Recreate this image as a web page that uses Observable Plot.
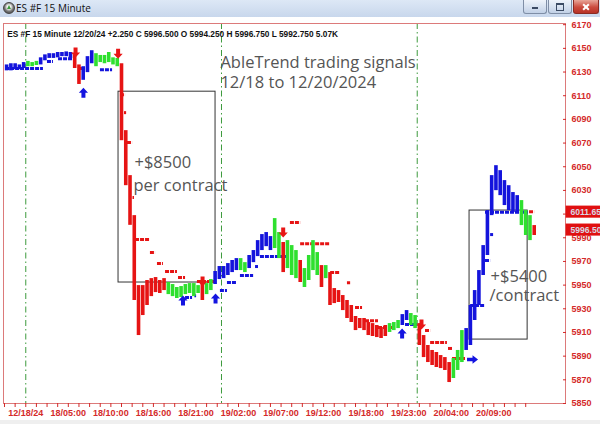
<!DOCTYPE html>
<html><head><meta charset="utf-8">
<script src="https://cdn.jsdelivr.net/npm/d3@7"></script>
<script src="https://cdn.jsdelivr.net/npm/@observablehq/plot@0.6"></script>
<style>
html,body{margin:0;padding:0;background:#fff;width:600px;height:424px;overflow:hidden;}
#titlebar{position:relative;height:17px;background:linear-gradient(#dde8f6,#c8d7ec);font-family:"Open Sans",sans-serif;}
#titlebar .ttl{position:absolute;left:16px;top:0;line-height:16px;font-size:10px;color:#111;}
#titlebar .ico{position:absolute;left:3px;top:2px;width:10px;height:10px;border-radius:50%;background:radial-gradient(circle at 50% 40%,#f4f4f4 0 25%,#7a7a7a 55%,#333 100%);border:1px solid #444;}
#titlebar .ico:after{content:"";position:absolute;left:3px;top:2px;border-left:2px solid transparent;border-right:2px solid transparent;border-bottom:4px solid #3a9a3a;}
.btn{position:absolute;top:0;height:13px;border:1px solid #7f8ea6;border-top:none;border-radius:0 0 3px 3px;background:linear-gradient(#eef3fa,#c2d1e7);}
.btn.min{left:523px;width:22px;}
.btn.max{left:548px;width:22px;}
.btn.cls{left:573px;width:24px;background:linear-gradient(#e8a699,#cc4b3e 55%,#b73226);border-color:#8b2a22;}
.btn.min:after{content:"";position:absolute;left:8px;top:7px;width:6px;height:2px;background:#3b4a63;}
.btn.max:after{content:"";position:absolute;left:7px;top:3px;width:6px;height:5px;border:1px solid #3b4a63;border-top-width:2px;}
.btn.cls:before,.btn.cls:after{content:"";position:absolute;left:11px;top:3px;width:2px;height:8px;background:#fff;transform:rotate(45deg);}
.btn.cls:after{transform:rotate(-45deg);}
#foot{height:4px;background:#efefef;}
</style></head><body>
<div id="titlebar"><div class="ico"></div><div class="ttl">ES #F 15 Minute</div>
<div class="btn min"></div><div class="btn max"></div><div class="btn cls"></div></div>
<div id="chart"></div>
<div id="foot"></div>
<script>
// ---- data: 15-minute bars, sampled every 2 bars (bar index of each sample = 1 + 2*j)
const barStart = 1, barStep = 2;
const barHigh = [
6136,6137,6137,6136,6138,6139,6138,6139,6142,6144.5,
6145.5,6145.5,6146.5,6146.5,6147,6146.5,6144,6136,6134.5,6143,
6148,6145.5,6144,6144,6146.5,6142,6141.5,6137,6080.5,6042.5,
6008.7,5949.6,5949.6,5953.9,5955.5,5956.4,5953.9,5955.5,5952.2,5950.5,
5948,5948.8,5950.5,5951.3,5951.3,5949.6,5950.5,5951.3,5954.7,5961.5,
5965.7,5965.7,5968.2,5970.8,5972.4,5972.4,5969,5975,5979.2,5987.6,
5992.7,5994.4,5991,6006.2,5994.4,5986,5987.6,5983.4,5979.2,5970.8,
5964,5975,5987.6,5977.5,5966.5,5966.5,5960.6,5947.1,5945.4,5941.2,
5937,5932.8,5923.5,5921.8,5921.8,5918.4,5917.5,5915.9,5914.2,5915.9,
5917.5,5918.4,5920.1,5925.1,5928.5,5926,5924.3,5917.5,5907.4,5899,
5894.8,5893.1,5890.5,5888.8,5884.6,5888,5894.8,5911.6,5913.3,5932.8,
5945.4,5962.3,5983.4,6013,6042.5,6050.9,6046.7,6038.3,6034,6028.2,
6025.6,6021.4,6013,6008.7,6000.3];
const barLow = [
6131,6131,6132,6132,6133,6134.5,6134.5,6135.5,6136,6139.5,
6141.5,6141.5,6142,6143,6143,6141.5,6133,6119.5,6123,6129.5,
6137,6134.5,6138,6137,6138,6136,6134.5,6072,6034,6000.5,
5937,5907.4,5924.3,5932.8,5940.3,5943.7,5942.9,5945.4,5942,5940.3,
5938.7,5939.5,5942,5942.9,5940.3,5942.9,5937,5942,5945.4,5950.5,
5954.7,5955.5,5958.1,5960.6,5962.3,5962.3,5960.6,5964,5969,5974.1,
5979.2,5982.5,5979.2,5980.9,5972.4,5960.6,5964,5958.1,5955.5,5952.2,
5948,5953.9,5962.3,5958.1,5948,5955.5,5932.8,5934.4,5935.3,5928.5,
5921.8,5918.4,5911.6,5913.3,5911.6,5907.4,5906.6,5905.7,5904.9,5906.6,
5910,5911.6,5913.3,5915.9,5920.1,5915.9,5913.3,5899,5888.8,5884.6,
5882.1,5880.4,5879.5,5877.9,5867.7,5871.1,5877.9,5884.6,5894.8,5899,
5920.1,5932.8,5958.1,5975,6008.7,6029.8,6025.6,6017.2,6013,6011.3,
6010.4,6000.3,5991.9,5987.6,5991.9];
// trend colour of consecutive samples: [trend, count]
const trendRuns = [["B",5],["G",3],["B",8],["R",2],["B",3],["G",6],["R",11],["G",8],["R",1],["G",2],
["B",6],["G",2],["B",6],["G",2],["R",1],["G",3],["R",1],["G",4],["R",1],["G",1],["R",14],["G",3],
["B",2],["G",2],["R",8],["G",3],["B",13],["G",3],["R",1]];
// stop levels: start bar, end bar, price, side
const stopFrom  = [0.5,20.2,25.4,45.1,85.1,89.5,101.5,104.8,110.9,118.0,120.3,188.5,219.1,226.1,228.5,226.1,
                   34.8,54.5,56.4,57.8,60.4,61.6,68.6,71.9,75.7,81.8,90.7,134.4,139.2,153.3,161.2,165.0,169.7,175.8,197.9,200.3,208.7,210.6,246.8];
const stopTo    = [18.3,23.0,32.0,50.8,88.4,90.3,104.8,109.5,117.1,119.4,133.0,194.2,226.1,228.5,229.9,246.3,
                   38.1,56.9,57.4,60.2,61.1,68.6,71.0,74.7,81.3,85.1,99.2,139.2,153.3,158.0,162.7,168.3,175.8,183.8,200.3,208.2,210.6,216.7,249.2];
const stopLevel = [6133,6138.8,6141.3,6132,5939.5,5941,5945.4,5952.2,5958.1,5965.7,5974.1,5916.7,5932.8,5970.8,5992.7,6011.65,
                   6133,6110.9,6095.7,6070.4,6024,5988.5,5977.5,5968.2,5961.5,5956.4,5953,6002.8,5985,5960.6,5952,5931,5920,5914.2,5911.6,5901.5,5896.5,5888,6012];
const stopSide  = "BBBBBBBBBBBBBBBBRRRRRRRRRRRRRRRRRRRRRRR";
// signal arrows: bar, price, kind
const signalBar   = [33.4,53.4,93.1,131,196,37.1,83.9,99.2,186.9,220];
const signalPrice = [6146.4,6145.5,5953,5994.4,5916.7,6112.6,5937,5938.7,5909.1,5887.2];
const signalKind  = ["sell","sell","sell","sell","sell","buy","buy","buy","buy","hold"];
// trade boxes
const tradeFrom = [53.6,218.6], tradeTo = [99.2,245.9], tradeTop = [6113.4,6013], tradeBottom = [5952.2,5904];
// day separators (bar index)
const dayBreaks = [10,102,194];
// axes
const priceTicks = [6170,6150,6130,6110,6090,6070,6050,6030,6010,5990,5970,5950,5930,5910,5890,5870,5850];
const hiddenPriceLabels = [6010]; // covered by the last-stop marker in the original
const timeLabelBars = [10,30,50,70,90,110,130,150,170,190,210,230];
const timeLabels = ["12/18/24","18/05:00","18/10:00","18/16:00","18/21:00","19/02:00","19/07:00","19/12:00","19/18:00","19/23:00","20/04:00","20/09:00"];
const lastStop = 6011.65, lastClose = 5996.50;
const header = "ES #F 15 Minute 12/20/24 +2.250 C 5996.500 O 5994.250 H 5996.750 L 5992.750 5.07K";
const notes = [
  {bar:101.5, price:6137.9, text:"AbleTrend trading signals"},
  {bar:101.5, price:6121.0, text:"12/18 to 12/20/2024"},
  {bar:61.1,  price:6053.5, text:"+$8500"},
  {bar:60.6,  price:6034.1, text:"per contract"},
  {bar:228.5, price:5957.2, text:"+$5400"},
  {bar:228.0, price:5941.0, text:"/contract"}];

// ---- build tables
const COL = {B:"#1414dc", G:"#2fe02f", R:"#e61414"};
const trend = trendRuns.flatMap(([c,n]) => Array(n).fill(c));
const bars = barHigh.map((h,j) => ({bar: barStart + barStep*j, hi: h, lo: barLow[j], c: trend[j]}));
const stops = stopLevel.map((p,k) => ({x1: stopFrom[k], x2: stopTo[k], p, c: stopSide[k]}));
const signals = signalBar.map((b,k) => ({bar: b, price: signalPrice[k], kind: signalKind[k]}));
const trades = tradeFrom.map((f,k) => ({x1: f, x2: tradeTo[k], y1: tradeBottom[k], y2: tradeTop[k]}));
const labelOf = new Map(timeLabelBars.map((b,k) => [b, timeLabels[k]]));
const minorTicks = d3.range(0, 250, 5);

const arrowDown = {draw(c, size){const s=Math.sqrt(size)/10;
  c.moveTo(-2*s,-5*s);c.lineTo(2*s,-5*s);c.lineTo(2*s,0);c.lineTo(4.6*s,0);c.lineTo(0,5*s);c.lineTo(-4.6*s,0);c.lineTo(-2*s,0);c.closePath();}};
const arrowUp = {draw(c, size){const s=Math.sqrt(size)/10;
  c.moveTo(-2*s,5*s);c.lineTo(2*s,5*s);c.lineTo(2*s,0);c.lineTo(4.6*s,0);c.lineTo(0,-5*s);c.lineTo(-4.6*s,0);c.lineTo(-2*s,0);c.closePath();}};
const arrowRight = {draw(c, size){const s=Math.sqrt(size)/10;
  c.moveTo(-5.5*s,-1.8*s);c.lineTo(0,-1.8*s);c.lineTo(0,-4.2*s);c.lineTo(5.5*s,0);c.lineTo(0,4.2*s);c.lineTo(0,1.8*s);c.lineTo(-5.5*s,1.8*s);c.closePath();}};

const RED = "#d42a2a";
const priceBoxes = [{p: lastStop, t: lastStop.toFixed(2)}, {p: lastClose, t: lastClose.toFixed(2)}];

const chart = Plot.plot({
  width: 600, height: 403,
  marginLeft: 3, marginRight: 35, marginTop: 6, marginBottom: 17,
  x: {domain: [-0.47, 263.7]},
  y: {domain: [5850, 6171]},
  style: {background: "#fff", fontFamily: "'Liberation Sans', Arial, sans-serif"},
  marks: [
    Plot.ruleX(dayBreaks, {x: d => d, stroke: "#3d9a3d", strokeWidth: 1, strokeDasharray: "6,3,1.5,3"}),
    Plot.rect(trades, {x1: "x1", x2: "x2", y1: "y1", y2: "y2", fill: "none", stroke: "#333", strokeWidth: 1}),
    Plot.ruleY(stops, {x1: "x1", x2: "x2", y: "p", stroke: d => COL[d.c], strokeWidth: 3, strokeDasharray: "4,1"}),
    Plot.ruleX(bars, {x: "bar", y1: "lo", y2: "hi", stroke: d => COL[d.c], strokeWidth: 3.6}),
    Plot.dot(signals.filter(d => d.kind === "sell"), {x: "bar", y: "price", symbol: arrowDown, r: 5.64, fill: "#e81616", stroke: null}),
    Plot.dot(signals.filter(d => d.kind === "buy"), {x: "bar", y: "price", symbol: arrowUp, r: 5.64, fill: "#1414e0", stroke: null}),
    Plot.dot(signals.filter(d => d.kind === "hold"), {x: "bar", y: "price", symbol: arrowRight, r: 5.64, fill: "#1414e0", stroke: null}),
    Plot.text(notes, {x: "bar", y: "price", text: "text", textAnchor: "start", lineAnchor: "middle",
      fontSize: 16.5, fill: "#555", fontFamily: "'Open Sans', sans-serif"}),
    Plot.frame({stroke: "#dc7a7a"}),
    Plot.axisY(priceTicks, {anchor: "right", tickSize: 3, dx: -3, tickPadding: 6, color: RED,
      fontSize: 9, fontWeight: "bold", label: null,
      tickFormat: d => hiddenPriceLabels.includes(d) ? "" : String(d)}),
    Plot.axisX(minorTicks, {tickSize: 4, tickFormat: () => "", color: RED, label: null}),
    Plot.axisX(timeLabelBars, {tickSize: 0, tickPadding: 6, color: RED, fontSize: 9, fontWeight: "bold",
      label: null, tickFormat: d => labelOf.get(d)}),
    Plot.rect(priceBoxes, {x1: 264.0, x2: 284, y1: d => d.p - 5.1, y2: d => d.p + 5.1, fill: "#e01010"}),
    Plot.text(priceBoxes, {x: 266.0, y: "p", text: "t", textAnchor: "start", lineAnchor: "middle",
      fontSize: 8.6, fontWeight: "bold", fill: "#d8d8e4"}),
    Plot.text([header], {text: d => d, frameAnchor: "top-left", dx: 3.7, dy: 10.5, textAnchor: "start",
      lineAnchor: "middle", fontSize: 8.3, fontWeight: "bold", fill: "#111"})
  ]
});
document.getElementById("chart").append(chart);
</script>
</body></html>
